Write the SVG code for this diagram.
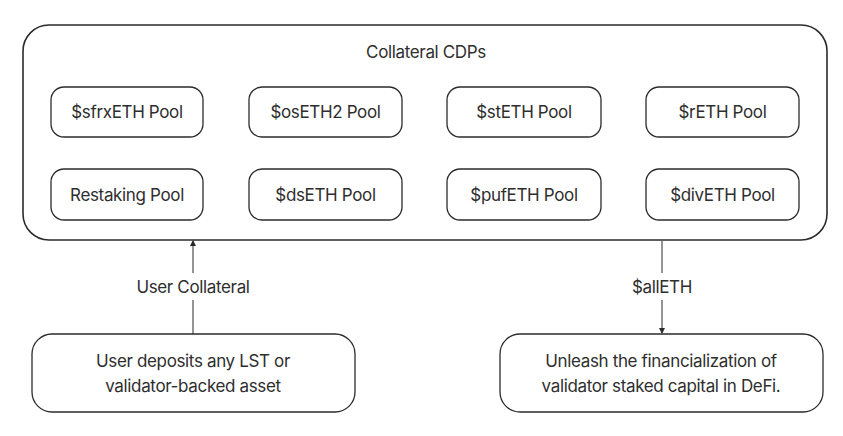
<svg xmlns="http://www.w3.org/2000/svg" width="843" height="436" viewBox="0 0 843 436">
<style>
.box{fill:#fff;stroke:#2b2b2b;stroke-width:1.3}
.outer{fill:#fff;stroke:#2b2b2b;stroke-width:1.6}
.t{font-family:Inter,"Liberation Sans",sans-serif;font-size:17px;letter-spacing:-0.35px;fill:#2e2e2e;text-anchor:middle;dominant-baseline:central}
.ln{stroke:#2b2b2b;stroke-width:1;fill:none}
</style>
<defs>
<marker id="ah" viewBox="0 0 6 6" refX="5" refY="3" markerWidth="6" markerHeight="6" orient="auto" markerUnits="userSpaceOnUse">
<path d="M0,0 L6,3 L0,6 z" fill="#2b2b2b"/>
</marker>
</defs>
<rect width="843" height="436" fill="#fff"/>
<g id="cdps">
<rect class="outer" x="23" y="25" width="804" height="215" rx="26"/>
<text class="t" x="426" y="52">Collateral CDPs</text>
</g>
<g id="sfrxeth"><rect class="box" x="51" y="87" width="152" height="50" rx="13"/><text class="t" x="127" y="112">$sfrxETH Pool</text></g>
<g id="oseth2"><rect class="box" x="249" y="87" width="153" height="50" rx="13"/><text class="t" x="325.5" y="112">$osETH2 Pool</text></g>
<g id="steth"><rect class="box" x="447" y="87" width="154" height="50" rx="13"/><text class="t" x="524" y="112">$stETH Pool</text></g>
<g id="reth"><rect class="box" x="646" y="87" width="153" height="50" rx="13"/><text class="t" x="722.5" y="112">$rETH Pool</text></g>
<g id="restaking"><rect class="box" x="51" y="169" width="152" height="51" rx="13"/><text class="t" x="127" y="194.5">Restaking Pool</text></g>
<g id="dseth"><rect class="box" x="249" y="169" width="153" height="51" rx="13"/><text class="t" x="325.5" y="194.5">$dsETH Pool</text></g>
<g id="pufeth"><rect class="box" x="447" y="169" width="154" height="51" rx="13"/><text class="t" x="524" y="194.5">$pufETH Pool</text></g>
<g id="diveth"><rect class="box" x="646" y="169" width="153" height="51" rx="13"/><text class="t" x="722.5" y="194.5">$divETH Pool</text></g>
<g id="deposit"><rect class="box" x="32" y="334" width="323" height="78" rx="20"/>
<text class="t" x="193" y="361">User deposits any LST or</text>
<text class="t" x="193" y="386">validator-backed asset</text></g>
<g id="unleash"><rect class="box" x="500" y="334" width="323" height="78" rx="20"/>
<text class="t" x="661" y="361">Unleash the financialization of</text>
<text class="t" x="661" y="386">validator staked capital in DeFi.</text></g>
<g id="connectors">
<line class="ln" x1="193" y1="334" x2="193" y2="300"/>
<line class="ln" x1="193" y1="273" x2="193" y2="241" marker-end="url(#ah)"/>
<text class="t" x="193" y="287">User Collateral</text>
<line class="ln" x1="662" y1="241" x2="662" y2="273"/>
<line class="ln" x1="662" y1="300" x2="662" y2="333" marker-end="url(#ah)"/>
<text class="t" x="662" y="287">$allETH</text>
</g>
</svg>
